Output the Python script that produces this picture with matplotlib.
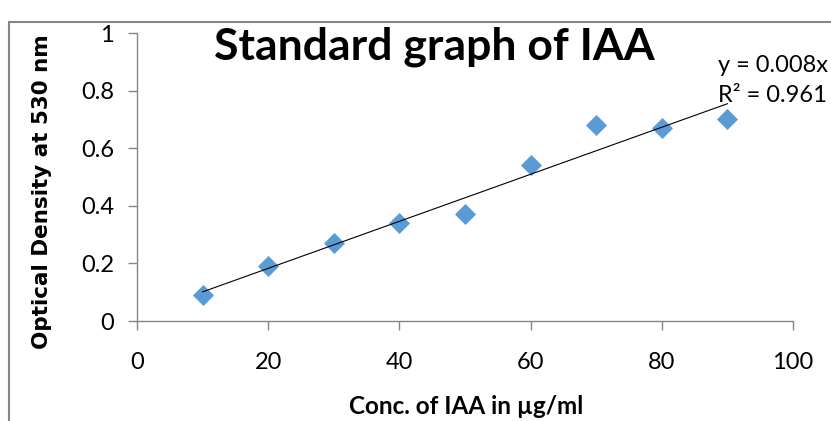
import numpy as np
import matplotlib
matplotlib.use("Agg")
import matplotlib.pyplot as plt
from matplotlib.patches import Rectangle

# data
conc = [10, 20, 30, 40, 50, 60, 70, 80, 90]
od = [0.09, 0.19, 0.27, 0.34, 0.37, 0.54, 0.68, 0.67, 0.70]
x_ticks = [0, 20, 40, 60, 80, 100]
y_ticks = [0, 0.2, 0.4, 0.6, 0.8, 1]
y_tick_labels = ["0", "0.2", "0.4", "0.6", "0.8", "1"]

narrow = ["Lato", "DejaVu Sans"]
grey = "#868686"

fig = plt.figure(figsize=(8.31, 4.21), dpi=100)
W, H = 831, 421
ax = fig.add_axes([137 / W, 1 - 321 / H, (793 - 137) / W, (321 - 33) / H])

ax.scatter(conc, od, marker="D", s=115, color="#5B9BD5", linewidths=0, zorder=3)

# linear trendline like excel
slope, icpt = np.polyfit(conc, od, 1)
xs = np.array([conc[0], conc[-1]])
ax.plot(xs, slope * xs + icpt, color="black", lw=0.8, zorder=4)

ax.set_xlim(0, 100)
ax.set_ylim(0, 1)
ax.set_xticks(x_ticks)
ax.set_xticklabels([str(t) for t in x_ticks], family=narrow, fontsize=17)
ax.set_yticks(y_ticks)
ax.set_yticklabels(y_tick_labels, family=narrow, fontsize=17)
for s in ["top", "right"]:
    ax.spines[s].set_visible(False)
for s in ["left", "bottom"]:
    ax.spines[s].set_color(grey)
    ax.spines[s].set_linewidth(1)
ax.tick_params(axis="both", color=grey, length=6.5, width=1)
ax.tick_params(axis="x", pad=16)
ax.tick_params(axis="y", pad=10)

fig.text(434 / W, 1 - 47 / H, "Standard graph of IAA", ha="center", va="center",
         family=narrow, fontsize=32, fontweight="bold")
fig.text(42 / W, 1 - 192 / H, "Optical Density at 530 nm", rotation=90,
         ha="center", va="center", family="DejaVu Sans", fontsize=15.5, fontweight="bold")
fig.text(466 / W, 1 - 407 / H, "Conc. of IAA in µg/ml", ha="center", va="center",
         family=narrow, fontsize=17.5, fontweight="bold")
fig.text(718 / W, 1 - 66 / H, "y = 0.008x", ha="left", va="center",
         family=narrow, fontsize=17)
fig.text(718 / W, 1 - 96 / H, "R² = 0.961", ha="left", va="center",
         family=narrow, fontsize=17)

# chart area frame
fig.patches.append(Rectangle((9 / W, -0.1), 1.2, 1 - 22 / H + 0.1,
                             transform=fig.transFigure, fill=False,
                             edgecolor=grey, lw=1.5))

fig.savefig("out.png", dpi=100)
